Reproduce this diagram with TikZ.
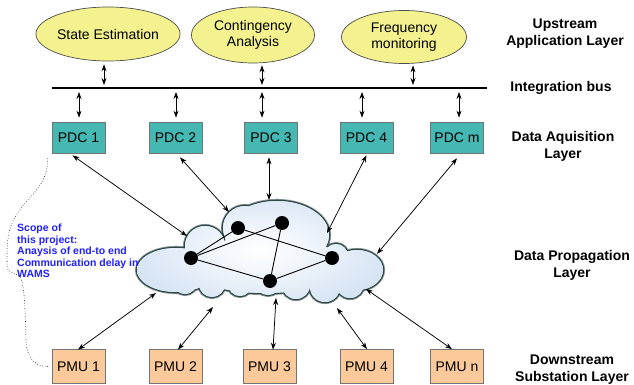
\documentclass[tikz,border=0pt]{standalone}
\usepackage{fontspec}
\setmainfont{Liberation Sans}
\usetikzlibrary{arrows.meta,shapes.geometric}

\definecolor{appfill}{HTML}{F4F28E}
\definecolor{pdcfill}{HTML}{46B8B3}
\definecolor{pmufill}{HTML}{FBC99A}
\definecolor{cloudfill}{HTML}{D6E4F4}
\definecolor{cloudedge}{HTML}{2E4646}
\definecolor{scopeblue}{HTML}{1F1FFF}

\begin{document}
\begin{tikzpicture}[x=1pt,y=-1pt,
  app/.style={ellipse, draw=black!70, fill=appfill, line width=0.7pt,
    minimum width=123pt, minimum height=54pt, inner sep=0pt, align=center,
    font=\fontsize{14}{16}\selectfont},
  box/.style={rectangle, draw=black!55, line width=0.7pt, minimum width=53pt,
    inner sep=0pt, font=\fontsize{14}{16}\selectfont},
  pdc/.style={box, fill=pdcfill, minimum height=31pt},
  pmu/.style={box, fill=pmufill, minimum height=34pt},
  layer/.style={align=center, inner sep=0pt,
    font=\bfseries\fontsize{14}{17}\selectfont},
  link/.style={{Stealth[length=7pt,width=5pt]}-{Stealth[length=7pt,width=5pt]},
    line width=0.75pt},
  hop/.style={line width=0.9pt},
  dot/.style={circle, fill=black, minimum size=14pt, inner sep=0pt},
  cloud lobes/.style={insert path={
    (176,270) ellipse [x radius=39, y radius=22]
    (205,246) circle [radius=20]
    (245,228) circle [radius=22]
    (277,235) ellipse [x radius=52, y radius=34]
    (336,256) circle [radius=12]
    (357,270) ellipse [x radius=26, y radius=20]
    (265,265) ellipse [x radius=80, y radius=28]
    (185,282) circle [radius=12]
    (212,284) circle [radius=13]
    (240,284) circle [radius=12]
    (268,282) circle [radius=13]
    (296,285) circle [radius=14]
    (325,287) circle [radius=15]
    (350,284) circle [radius=14]}}
]
\useasboundingbox (0,0) rectangle (634,385);

% upstream applications
\node[app] (se) at (108,34) {State Estimation};
\node[app, minimum height=56pt] (ca) at (253,35) {Contingency\\Analysis};
\node[app, minimum width=125pt, minimum height=53pt] (fm) at (404,37) {Frequency\\monitoring};

% integration bus
\coordinate (busL) at (52,88);
\coordinate (busR) at (487,88);
\draw[line width=2.6pt] (busL) -- (busR);

\coordinate (upSE) at (104,85);
\coordinate (upCA) at (262,85);
\coordinate (upFM) at (413,85);
\draw[link] ([shift={(-4,3)}]se.south) -- (upSE);
\draw[link] ([shift={(9,2)}]ca.south) -- (upCA);
\draw[link] ([shift={(9,1.5)}]fm.south) -- (upFM);

% data acquisition layer
\node[pdc] (p1) at (78.5,137.5) {PDC 1};
\node[pdc] (p2) at (175.5,137.5) {PDC 2};
\node[pdc] (p3) at (271,137.5) {PDC 3};
\node[pdc] (p4) at (366.5,137.5) {PDC 4};
\node[pdc] (pm) at (457,137.5) {PDC m};

\coordinate (dn1) at (79,92);
\coordinate (dn2) at (176,92);
\coordinate (dn3) at (262,92);
\coordinate (dn4) at (362,92);
\coordinate (dnm) at (459,92);
\draw[link] (dn1) -- ([shift={(0.5,-4)}]p1.north);
\draw[link] (dn2) -- ([shift={(0.5,-4)}]p2.north);
\draw[link] (dn3) -- ([shift={(-9,-4)}]p3.north);
\draw[link] (dn4) -- ([shift={(-4.5,-4)}]p4.north);
\draw[link] (dnm) -- ([shift={(2,-4)}]pm.north);

% data propagation network: cloud outline, then a soft fill
\draw[cloudedge!55, line width=4.2pt, cloud lobes];
\draw[cloudedge, line width=2.6pt, cloud lobes];
\fill[cloudfill, cloud lobes];
\begin{scope}
  \clip[cloud lobes];
  \shade[inner color=white, outer color=cloudfill] (130,190) rectangle (390,310);
\end{scope}

\node[dot] (d1) at (238,228) {};
\node[dot] (d2) at (282,223) {};
\node[dot] (d3) at (191,258) {};
\node[dot] (d4) at (332,258) {};
\node[dot] (d5) at (270,281) {};
\draw[hop] (d3) -- (d1);
\draw[hop] (d3) -- (d2);
\draw[hop] (d3) -- (d5);
\draw[hop] (d1) -- (d4);
\draw[hop] (d2) -- (d5);
\draw[hop] (d5) -- (d4);

% cloud entry points
\coordinate (cP1) at (187,236);
\coordinate (cP2) at (229,212);
\coordinate (cP3) at (269,200);
\coordinate (cP4) at (327,233);
\coordinate (cPm) at (377,254);
\coordinate (cU1) at (156,293);
\coordinate (cU2) at (213,307);
\coordinate (cU3) at (276,298);
\coordinate (cU4) at (337,308);
\coordinate (cUn) at (366,289);

\draw[link] ([shift={(-6,2)}]p1.south) -- (cP1);
\draw[link] ([shift={(4.5,4)}]p2.south) -- (cP2);
\draw[link] ([shift={(-2,4)}]p3.south) -- (cP3);
\draw[link] ([shift={(0,2)}]p4.south) -- (cP4);
\draw[link] ([shift={(0,5)}]pm.south) -- (cPm);

% downstream substations
\node[pmu] (u1) at (78.5,366.5) {PMU 1};
\node[pmu] (u2) at (175.5,366.5) {PMU 2};
\node[pmu] (u3) at (269.5,366.5) {PMU 3};
\node[pmu] (u4) at (366.5,366.5) {PMU 4};
\node[pmu] (un) at (457,366.5) {PMU n};

\draw[link] ([shift={(-0.5,0.5)}]u1.north) -- (cU1);
\draw[link] ([shift={(2.5,0.5)}]u2.north) -- (cU2);
\draw[link] ([shift={(3.5,0.5)}]u3.north) -- (cU3);
\draw[link] ([shift={(0.5,0)}]u4.north) -- (cU4);
\draw[link] ([shift={(-5,0)}]un.north) -- (cUn);

% project scope
\node[anchor=north west, align=left, inner sep=0pt, text=scopeblue,
  font=\bfseries\fontsize{10.5}{11.5}\selectfont] (scope) at (17,224)
  {Scope of\\this project:\\Anaysis of end-to end\\Communication delay in\\WAMS};
\draw[dotted, line width=0.6pt] ([shift={(-4,5)}]p1.south west)
  .. controls (48,185) and (30,195) .. (20,210)
  .. controls (10,222) and (7,235) .. (7,255)
  -- (7,266)
  .. controls (7,271) and (12,273) .. (18,275)
  .. controls (24,278) and (25,300) .. (26,340)
  .. controls (27,362) and (38,367) .. ([xshift=-2pt]u1.west);

% layer names
\node[layer] (lUp)  at (565,34)  {Upstream\\Application Layer};
\node[layer] (lBus) at (561,88)  {Integration bus};
\node[layer] (lAcq) at (563,146) {Data Aquisition\\Layer};
\node[layer] (lPro) at (572,265) {Data Propagation\\Layer};
\node[layer] (lDn)  at (572,370) {Downstream\\Substation Layer};
\end{tikzpicture}
\end{document}
